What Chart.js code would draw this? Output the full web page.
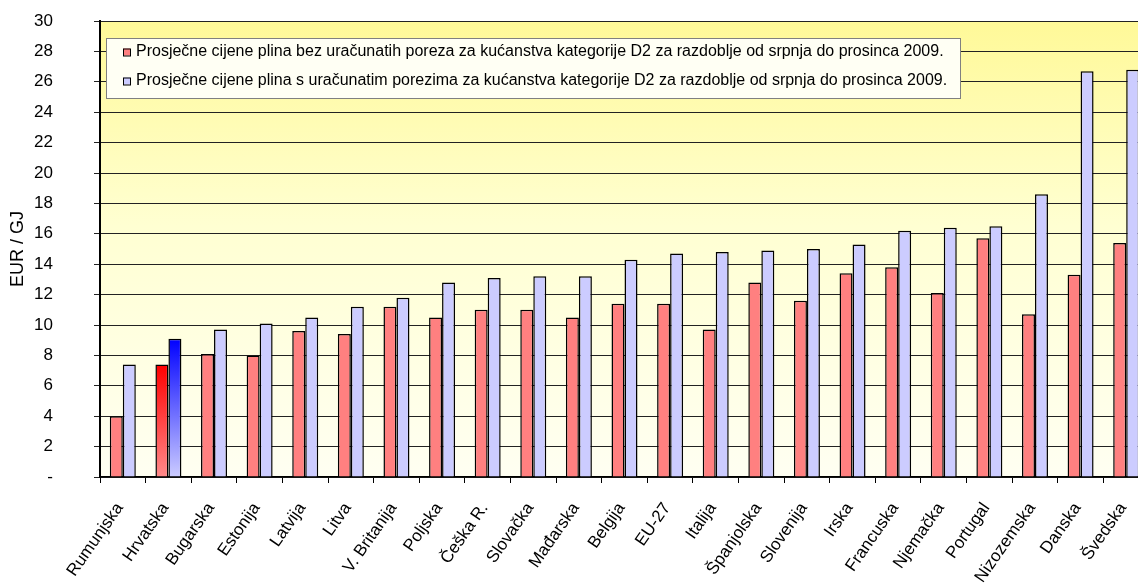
<!DOCTYPE html>
<html>
<head>
<meta charset="utf-8">
<script src="https://cdn.jsdelivr.net/npm/chart.js@4/dist/chart.umd.min.js"></script>
<style>
  html, body { margin: 0; padding: 0; background: #fff; overflow: hidden; }
  #wrap { width: 1150px; height: 587px; }
</style>
</head>
<body>
<div id="wrap"><canvas id="myChart" width="1150" height="587"></canvas></div>
<script>
var countries = ["Rumunjska", "Hrvatska", "Bugarska", "Estonija", "Latvija", "Litva", "V. Britanija",
  "Poljska", "Češka R.", "Slovačka", "Mađarska", "Belgija", "EU-27", "Italija", "Španjolska",
  "Slovenija", "Irska", "Francuska", "Njemačka", "Portugal", "Nizozemska", "Danska", "Švedska"];

// EUR/GJ, bez poreza
var netPrices = [4.0, 7.4, 8.1, 8.0, 9.6, 9.4, 11.2, 10.5, 11.0, 11.0, 10.5, 11.4, 11.4, 9.7,
  12.8, 11.6, 13.4, 13.8, 12.1, 15.7, 10.7, 13.3, 15.4];

// EUR/GJ, s porezima
var grossPrices = [7.4, 9.1, 9.7, 10.1, 10.5, 11.2, 11.8, 12.8, 13.1, 13.2, 13.2, 14.3, 14.7, 14.8,
  14.9, 15.0, 15.3, 16.2, 16.4, 16.5, 18.6, 26.7, 26.8];

var netLabel = "Prosječne cijene plina bez uračunatih poreza za kućanstva kategorije D2 za razdoblje od srpnja do prosinca 2009.";
var grossLabel = "Prosječne cijene plina s uračunatim porezima za kućanstva kategorije D2 za razdoblje od srpnja do prosinca 2009.";
var highlight = "Hrvatska";

var FONT = '"Liberation Sans", Arial, sans-serif';

// Hrvatska gets a vertical gradient, everything else flat fill
function barFill(flat, topColor, bottomColor) {
  return function(context) {
    var chart = context.chart;
    if (context.type !== 'data' || countries[context.dataIndex] !== highlight || !chart.chartArea) {
      return flat;
    }
    var y = chart.scales.y;
    var v = context.dataset.data[context.dataIndex];
    var g = chart.ctx.createLinearGradient(0, y.getPixelForValue(v), 0, y.getPixelForValue(0));
    g.addColorStop(0, topColor);
    g.addColorStop(1, bottomColor);
    return g;
  };
}

var plotBackground = {
  id: 'plotBackground',
  beforeDraw: function(chart) {
    var a = chart.chartArea;
    var c = chart.ctx;
    var g = c.createLinearGradient(0, a.top, 0, a.bottom);
    g.addColorStop(0, '#fff998');
    g.addColorStop(0.45, '#ffffd2');
    g.addColorStop(1, '#fffff2');
    c.save();
    c.fillStyle = g;
    c.fillRect(a.left, a.top, a.right - a.left, a.bottom - a.top);
    c.restore();
  }
};

// legend box drawn inside the plot area
var boxLegend = {
  id: 'boxLegend',
  afterDraw: function(chart) {
    var a = chart.chartArea;
    var c = chart.ctx;
    var x = a.left + 6, y = a.top + 17, w = 854, h = 60;
    c.save();
    c.fillStyle = '#fffff4';
    c.fillRect(x, y, w, h);
    c.strokeStyle = '#808080';
    c.lineWidth = 1;
    c.strokeRect(x + 0.5, y + 0.5, w, h);
    c.font = '16px ' + FONT;
    c.textBaseline = 'middle';
    chart.data.datasets.forEach(function(ds, i) {
      var ly = y + 14 + i * 29;
      c.fillStyle = ds.legendColor;
      c.fillRect(x + 17, ly - 3.5, 7, 7);
      c.strokeStyle = '#000';
      c.strokeRect(x + 17.5, ly - 3, 7, 7);
      c.fillStyle = '#000';
      c.fillText(ds.label, x + 30, ly);
    });
    c.restore();
  }
};

var ctx = document.getElementById("myChart");
var myChart = new Chart(ctx, {
  type: 'bar',
  data: {
    labels: countries,
    datasets: [
      {
        label: netLabel,
        data: netPrices,
        legendColor: '#ff8080',
        backgroundColor: barFill('#ff8080', '#ff0000', '#ff8a8a'),
        borderColor: '#000',
        borderWidth: 1.5,
        categoryPercentage: 0.57,
        barPercentage: 1.0
      },
      {
        label: grossLabel,
        data: grossPrices,
        legendColor: '#ccccff',
        backgroundColor: barFill('#ccccff', '#0000ff', '#ccccff'),
        borderColor: '#000',
        borderWidth: 1.5,
        categoryPercentage: 0.57,
        barPercentage: 1.0
      }
    ]
  },
  options: {
    responsive: false,
    animation: false,
    devicePixelRatio: 1,
    layout: { padding: { top: 21, right: 1, left: 0, bottom: 0 } },
    plugins: {
      legend: { display: false },
      tooltip: { enabled: false }
    },
    scales: {
      x: {
        grid: { offset: true, drawOnChartArea: false, drawTicks: true, tickLength: 6, color: '#000' },
        border: { color: '#000', width: 1.5 },
        ticks: {
          autoSkip: false, minRotation: 55, maxRotation: 55, padding: 16, labelOffset: -3,
          color: '#000', font: { family: FONT, size: 17 }
        },
        afterFit: function(scale) {
          scale.height = 110;
          scale.paddingLeft = 0;
          scale.paddingRight = 0;
        }
      },
      y: {
        min: 0,
        max: 30,
        grid: { color: '#222', lineWidth: 1, tickLength: 6 },
        border: { color: '#000', width: 2 },
        ticks: {
          stepSize: 2, padding: 41, color: '#000', font: { family: FONT, size: 17 },
          callback: function(v) { return v === 0 ? '-' : v; }
        },
        title: {
          display: true, text: 'EUR / GJ', color: '#000',
          font: { family: FONT, size: 18 }, padding: { top: 7, bottom: 0 }
        },
        afterFit: function(scale) {
          scale.width = 100;
          // the big label padding must not push the plot down
          scale.paddingTop = 0;
          scale.paddingBottom = 0;
        }
      }
    }
  },
  plugins: [plotBackground, boxLegend]
});
</script>
</body>
</html>
